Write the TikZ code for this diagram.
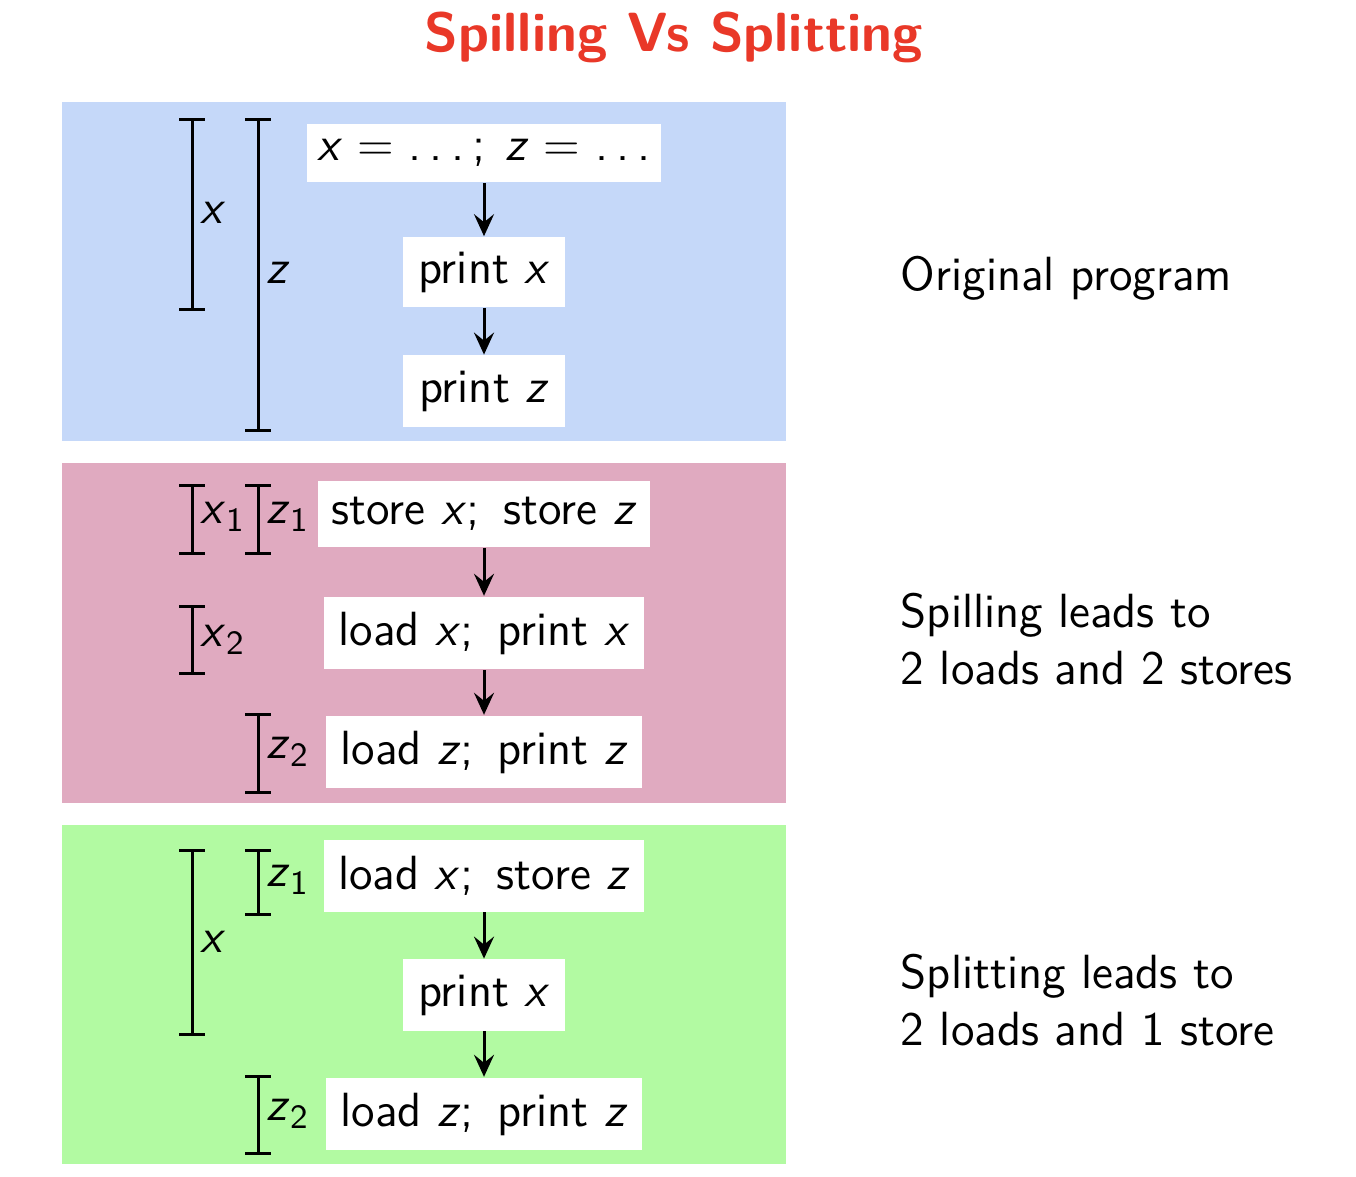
\documentclass[tikz,border=0pt]{standalone}
\usepackage{fontspec}
\usetikzlibrary{arrows.meta}
\definecolor{bluebg}{RGB}{197,216,249}
\definecolor{pinkbg}{RGB}{224,170,192}
\definecolor{greenbg}{RGB}{178,250,162}
\definecolor{titlered}{RGB}{233,56,40}
\newcommand{\vx}{\textit{x}}
\newcommand{\vz}{\textit{z}}
\newcommand{\sub}[1]{\raisebox{-0.35ex}{\fontsize{8.5}{9}\selectfont #1}}
\newcommand{\sdots}{.\kern0.17em.\kern0.17em.}
\newcommand{\semi}{;\hspace{0.17em}\ }
\newcommand{\eq}{\hspace{0.31em}=\hspace{0.31em}}
\begin{document}
\begin{tikzpicture}[x=0.25pt,y=-0.25pt,
  every node/.style={font=\sffamily\fontsize{12}{14.25}\selectfont, inner sep=0pt},
  codebox/.style={fill=white, minimum height=#1, anchor=center},
  flow/.style={-{Stealth[length=5.5pt,width=5pt,inset=2pt]}, line width=0.75pt},
  brk/.style={line width=0.75pt},
  lbl/.style={anchor=west},
  note/.style={anchor=west, align=left}]
\useasboundingbox (0,0) rectangle (1356,1176);
% title
\node[font=\sffamily\bfseries\fontsize{13.8}{16}\selectfont, text=titlered] (title) at (674,37) {Spilling Vs Splitting};
% panels
\fill[bluebg]  (62,102) rectangle (786,441);
\fill[pinkbg]  (62,463) rectangle (786,803);
\fill[greenbg] (62,825) rectangle (786,1164);

% ---------- panel 1
\node[codebox=14.5pt, minimum width=88.5pt] (a1) at (484,153) {\vx\eq\sdots\kern0.17em;\hspace{0.1em}\ \vz\eq\sdots};
\node[codebox=17.5pt, minimum width=40.5pt] (a2) at (484,272) {print \vx};
\node[codebox=17.8pt, minimum width=40.3pt] (a3) at (484,391) {print \vz};
\draw[flow] (a1.south) -- (a2.north);
\draw[flow] (a2.south) -- (a3.north);
\draw[brk] (192,120) -- (192,310) (179,120) -- (205,120) (179,310) -- (205,310);
\node[lbl] (lx) at (200,213) {\vx};
\draw[brk] (258,120) -- (258,430) (245,120) -- (271,120) (245,430) -- (271,430);
\node[lbl] (lz) at (266,273) {\vz};
\node[note] (n1) at (900,278) {Original program};

% ---------- panel 2
\node[codebox=16.5pt, minimum width=83pt] (b1) at (484,514) {store \vx\semi store \vz};
\node[codebox=18.2pt, minimum width=79.8pt] (b2) at (484,633) {load \vx\semi print \vx};
\node[codebox=18.2pt, minimum width=79pt] (b3) at (484,752) {load \vz\semi print \vz};
\draw[flow] (b1.south) -- (b2.north);
\draw[flow] (b2.south) -- (b3.north);
\draw[brk] (192,485) -- (192,553) (179,485) -- (205,485) (179,553) -- (205,553);
\node[lbl] (lx1) at (200,517) {\vx\sub{1}};
\draw[brk] (258,485) -- (258,553) (245,485) -- (271,485) (245,553) -- (271,553);
\node[lbl] (lz1) at (266,517) {\vz\sub{1}};
\draw[brk] (192,606) -- (192,673) (179,606) -- (205,606) (179,673) -- (205,673);
\node[lbl] (lx2) at (200,640) {\vx\sub{2}};
\draw[brk] (258,714) -- (258,792) (245,714) -- (271,714) (245,792) -- (271,792);
\node[lbl] (lz2) at (266,752) {\vz\sub{2}};
\node[note] (n2) at (900,639) {Spilling leads to\\2 loads and 2 stores};

% ---------- panel 3
\node[codebox=17.8pt, minimum width=79.8pt] (c1) at (484,876) {load \vx\semi store \vz};
\node[codebox=17.8pt, minimum width=40.5pt] (c2) at (484,995) {print \vx};
\node[codebox=18.2pt, minimum width=79pt] (c3) at (484,1114) {load \vz\semi print \vz};
\draw[flow] (c1.south) -- (c2.north);
\draw[flow] (c2.south) -- (c3.north);
\draw[brk] (192,850) -- (192,1034) (179,850) -- (205,850) (179,1034) -- (205,1034);
\node[lbl] (lx3) at (200,942) {\vx};
\draw[brk] (258,850) -- (258,914) (245,850) -- (271,850) (245,914) -- (271,914);
\node[lbl] (lz3) at (266,880) {\vz\sub{1}};
\draw[brk] (258,1076) -- (258,1153) (245,1076) -- (271,1076) (245,1153) -- (271,1153);
\node[lbl] (lz4) at (266,1114) {\vz\sub{2}};
\node[note] (n3) at (900,1000) {Splitting leads to\\2 loads and 1 store};
\end{tikzpicture}
\end{document}
